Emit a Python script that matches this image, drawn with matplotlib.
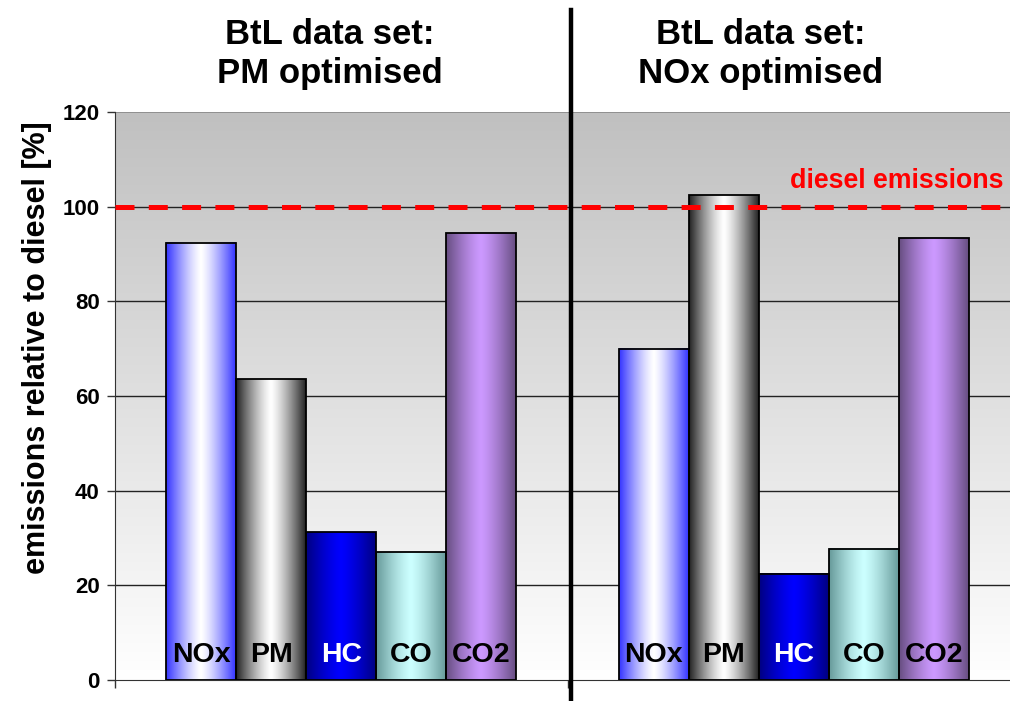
import numpy as np
import matplotlib
matplotlib.use('Agg')
import matplotlib.pyplot as plt
from matplotlib.colors import to_rgb

plt.rcParams['font.family'] = ['Liberation Sans', 'DejaVu Sans']
plt.rcParams['font.weight'] = 'bold'

# data (% of diesel)
species = ['NOx', 'PM', 'HC', 'CO', 'CO2']
data_sets = ['BtL data set:\nPM optimised', 'BtL data set:\nNOx optimised']
pm_opt = [92.4, 63.5, 31.2, 27.0, 94.4]
nox_opt = [70.0, 102.4, 22.5, 27.7, 93.3]
diesel_ref = 100
yticks = [0, 20, 40, 60, 80, 100, 120]

# bar shading: edge colour -> centre colour
edge_cols = ['#3333ff', '#222222', '#000080', '#669999', '#664d80']
centre_cols = ['#ffffff', '#ffffff', '#0000ff', '#ccffff', '#cc99ff']
label_cols = ['black', 'black', 'white', 'black', 'black']

fig = plt.figure(figsize=(10.10, 7.01), dpi=100)
ax = fig.add_axes([115/1010, 21/701, 895/1010, 568/701])

xmin, xmax = -0.4986, 1.4776
bw = 0.1546

# background gradient, grey at top to white at bottom
grad = np.linspace(0, 1, 256)[:, None]
top = np.array(to_rgb('#c0c0c0'))
bot = np.array([1.0, 1.0, 1.0])
bg = top[None, None, :] * grad[..., None] + bot[None, None, :] * (1 - grad[..., None])
ax.imshow(bg, extent=[xmin, xmax, 0, 120], origin='lower', aspect='auto', zorder=0)

for y in yticks[1:-1]:
    ax.axhline(y, color='#222222', lw=1.0, zorder=1)
ax.axhline(120, color='#888888', lw=1.2, zorder=1)

u = np.linspace(0, 1, 200)
t = np.abs(2 * u - 1) ** 1.3
for g, vals in enumerate([pm_opt, nox_opt]):
    for i, v in enumerate(vals):
        x0 = g + (i - 2.5) * bw
        e = np.array(to_rgb(edge_cols[i]))
        c = np.array(to_rgb(centre_cols[i]))
        row = c[None, :] + (e - c)[None, :] * t[:, None]
        ax.imshow(row[None, :, :], extent=[x0, x0 + bw, 0, v], aspect='auto', zorder=2)
        ax.bar(x0, v, width=bw, align='edge', fill=False, edgecolor='black', lw=1.3, zorder=3)
        ax.text(x0 + bw / 2, 3.9, species[i], ha='center', va='baseline', fontsize=20.5,
                color=label_cols[i], fontweight='bold', zorder=5)

ax.axhline(diesel_ref, color='#ff0000', lw=3.6, dashes=(3.8, 2.86), zorder=4)
ax.text(1.4636, diesel_ref + 3.9, 'diesel emissions', color='#ff0000', fontsize=19.3,
        fontweight='bold', ha='right', va='baseline', zorder=5)

ax.set_xlim(xmin, xmax)
ax.set_ylim(0, 120)
ax.set_yticks(yticks)
ax.set_yticklabels([str(v) for v in yticks], fontsize=16, fontweight='bold')
ax.set_xticks([-0.5, 0.5])
ax.set_xticklabels([])
ax.tick_params(axis='both', direction='out', length=6, width=1, color='#333333', pad=5)
for s in ['top', 'right']:
    ax.spines[s].set_visible(False)
ax.spines['left'].set_color('#333333')
ax.spines['bottom'].set_color('#333333')

# divider between the two data sets
ax.plot([0.5076, 0.5076], [-6, 141.5], color='black', lw=3.2, clip_on=False, zorder=6)

fig.text(330/1010, 1 - 83/701, data_sets[0], ha='center', va='baseline', fontsize=25,
         fontweight='bold', linespacing=1.25)
fig.text(761/1010, 1 - 83/701, data_sets[1], ha='center', va='baseline', fontsize=25,
         fontweight='bold', linespacing=1.25)
fig.text(37/1010, 1 - 348/701, 'emissions relative to diesel [%]', rotation=90,
         ha='center', va='center', fontsize=22, fontweight='bold')

fig.savefig('out.png', dpi=100)
